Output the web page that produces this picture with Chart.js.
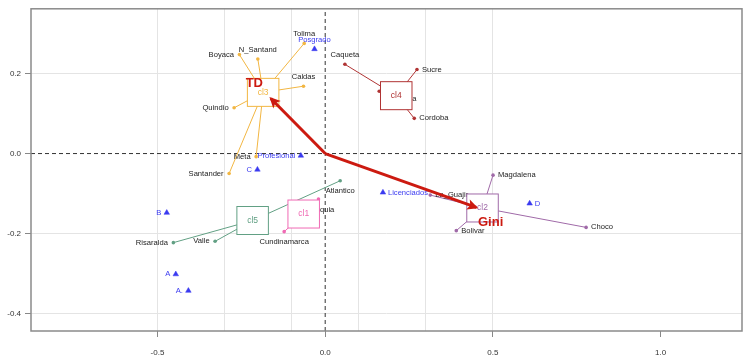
<!DOCTYPE html>
<html>
<head>
<meta charset="utf-8">
<script src="https://cdn.jsdelivr.net/npm/chart.js@4.4.0/dist/chart.umd.min.js"></script>
<style>
  html, body { margin: 0; padding: 0; background: #fff; }
  #wrap { width: 750px; height: 363px; }
</style>
</head>
<body>
<div id="wrap"><canvas id="chart" width="750" height="363"></canvas></div>
<script>
// Axis limits and ticks
const X_MIN = -0.877, X_MAX = 1.2425;
const Y_MIN = -0.4434, Y_MAX = 0.3617;
const xTickLabels = [-0.5, 0, 0.5, 1.0];
const xGrid = [-0.5, -0.3, -0.1, 0.1, 0.3, 0.5];
const yTickLabels = [-0.4, -0.2, 0, 0.2];
const yGrid = [-0.4, -0.2, 0.2];

// Cluster centres
const clusterNames = ['cl1', 'cl2', 'cl3', 'cl4', 'cl5'];
const clusterX = [-0.0641, 0.469, -0.185, 0.2118, -0.2163];
const clusterY = [-0.1511, -0.136, 0.1529, 0.1446, -0.1673];
const clusterColors = ['#f06ab4', '#a06aa8', '#f2b642', '#b03434', '#62a084'];

// Departments (active individuals)
const deptNames = ['Antioquia', 'Cundinamarca', 'Magdalena', 'La_Guajir', 'Bolivar', 'Choco',
  'Boyaca', 'N_Santand', 'Tolima', 'Caldas', 'Quindio', 'Meta', 'Santander',
  'Caqueta', 'Sucre', 'Cordoba', 'Huila', 'Cesar', 'Atlantico', 'Risaralda', 'Valle'];
const deptX = [-0.020, -0.1223, 0.5003, 0.3132, 0.3908, 0.7778,
  -0.2557, -0.2008, -0.0626, -0.0647, -0.2715, -0.2059, -0.2864,
  0.0588, 0.2736, 0.2655, 0.2058, 0.1611, 0.0447, -0.4526, -0.3282];
const deptY = [-0.1138, -0.1952, -0.054, -0.1038, -0.1927, -0.1845,
  0.2472, 0.2362, 0.2753, 0.1683, 0.1143, -0.0077, -0.05,
  0.223, 0.2099, 0.0879, 0.136, 0.1558, -0.068, -0.2226, -0.2193];
const deptCluster = [0, 0, 1, 1, 1, 1, 2, 2, 2, 2, 2, 2, 2, 3, 3, 3, 3, 3, 4, 4, 4];
const deptPos = ['b', 'b', 'r', 'r', 'r', 'r', 'l', 't', 't', 't', 'l', 'l', 'l',
  't', 'r', 'r', 'r', 'r', 'b', 'l', 'l'];

// Supplementary categories
const supNames = ['Posgrado', 'Profesional', 'C', 'B', 'A', 'A.', 'Licenciados', 'D'];
const supX = [-0.0319, -0.0725, -0.202, -0.4723, -0.4454, -0.4078, 0.1721, 0.6095];
const supY = [0.2611, -0.0052, -0.0401, -0.1479, -0.3015, -0.3428, -0.0973, -0.1247];
const supPos = ['t', 'l', 'l', 'l', 'l', 'l', 'r', 'r'];

// Variable arrows
const arrowNames = ['TD', 'Gini'];
const arrowX = [-0.162, 0.4505];
const arrowY = [0.1377, -0.1347];
const arrowLabelX = [-0.2112, 0.4932];
const arrowLabelY = [0.1758, -0.172];

const LABEL_FONT = "7.6px 'Liberation Sans', Arial, sans-serif";
const BLUE = '#3a3af0';
const RED = '#cc1a10';
const BOX_W = 31.5, BOX_H = 28;

const datasets = [];

// zero reference lines
datasets.push({ data: [{ x: 0, y: Y_MIN }, { x: 0, y: Y_MAX }], showLine: true, borderColor: '#333',
  borderWidth: 1, borderDash: [4, 3], pointRadius: 0, order: 60 });
datasets.push({ data: [{ x: X_MIN, y: 0 }, { x: X_MAX, y: 0 }], showLine: true, borderColor: '#333',
  borderWidth: 1, borderDash: [4, 3], pointRadius: 0, order: 60 });

// links from cluster centre to members
deptNames.forEach((n, i) => {
  const c = deptCluster[i];
  datasets.push({
    data: [{ x: clusterX[c], y: clusterY[c] }, { x: deptX[i], y: deptY[i] }],
    showLine: true, borderColor: clusterColors[c], borderWidth: 1, pointRadius: 0, order: 50,
  });
});

// member points per cluster
clusterNames.forEach((n, c) => {
  const pts = [];
  deptNames.forEach((d, i) => { if (deptCluster[i] === c) pts.push({ x: deptX[i], y: deptY[i] }); });
  datasets.push({ data: pts, pointRadius: 1.8, pointBackgroundColor: clusterColors[c],
    pointBorderWidth: 0, order: 40 });
});

// supplementary triangles
datasets.push({ data: supX.map((x, i) => ({ x, y: supY[i] })), pointStyle: 'triangle', pointRadius: 3.2,
  pointBackgroundColor: BLUE, pointBorderColor: BLUE, pointBorderWidth: 0.5, order: 40 });

// arrows
arrowNames.forEach((n, i) => {
  datasets.push({ kind: 'arrow', data: [{ x: 0, y: 0 }, { x: arrowX[i], y: arrowY[i] }], showLine: true,
    borderColor: RED, borderWidth: 3, pointRadius: 0, order: 10 });
});

function drawText(ctx, txt, px, py, pos, color) {
  ctx.font = LABEL_FONT;
  ctx.fillStyle = color;
  ctx.textBaseline = 'middle';
  let x = px, y = py;
  if (pos === 'l') { ctx.textAlign = 'right'; x = px - 5.5; }
  else if (pos === 'r') { ctx.textAlign = 'left'; x = px + 5; }
  else if (pos === 't') { ctx.textAlign = 'center'; y = py - 9; }
  else { ctx.textAlign = 'center'; y = py + 10.5; }
  ctx.fillText(txt, x, y);
}

let labelsDone = false;
const overlay = {
  id: 'overlay',
  beforeDraw() { labelsDone = false; },
  beforeDatasetDraw(chart, args) {
    const ds = chart.data.datasets[args.index];
    if (ds.kind !== 'arrow' || labelsDone) return;
    labelsDone = true;
    const { ctx, scales: { x, y } } = chart;
    ctx.save();
    deptNames.forEach((n, i) => drawText(ctx, n, x.getPixelForValue(deptX[i]), y.getPixelForValue(deptY[i]), deptPos[i], '#222'));
    supNames.forEach((n, i) => drawText(ctx, n, x.getPixelForValue(supX[i]), y.getPixelForValue(supY[i]), supPos[i], BLUE));
    clusterNames.forEach((n, c) => {
      const px = x.getPixelForValue(clusterX[c]), py = y.getPixelForValue(clusterY[c]);
      ctx.fillStyle = '#fff';
      ctx.fillRect(px - BOX_W / 2, py - BOX_H / 2, BOX_W, BOX_H);
      ctx.strokeStyle = clusterColors[c];
      ctx.lineWidth = 1;
      ctx.strokeRect(px - BOX_W / 2, py - BOX_H / 2, BOX_W, BOX_H);
      ctx.font = "8.5px 'Liberation Sans', Arial, sans-serif";
      ctx.fillStyle = clusterColors[c];
      ctx.textAlign = 'center';
      ctx.textBaseline = 'middle';
      ctx.fillText(n, px, py);
    });
    ctx.restore();
  },
  afterDatasetsDraw(chart) {
    const { ctx, chartArea: a, scales: { x, y } } = chart;
    ctx.save();
    const ox = x.getPixelForValue(0), oy = y.getPixelForValue(0);
    arrowNames.forEach((n, i) => {
      const tx = x.getPixelForValue(arrowX[i]), ty = y.getPixelForValue(arrowY[i]);
      const ang = Math.atan2(ty - oy, tx - ox);
      const hx = tx + Math.cos(ang) * 2, hy = ty + Math.sin(ang) * 2;
      const L = 12, w = 0.45;
      ctx.fillStyle = RED;
      ctx.beginPath();
      ctx.moveTo(hx, hy);
      ctx.lineTo(hx - L * Math.cos(ang - w), hy - L * Math.sin(ang - w));
      ctx.lineTo(hx - L * 0.7 * Math.cos(ang), hy - L * 0.7 * Math.sin(ang));
      ctx.lineTo(hx - L * Math.cos(ang + w), hy - L * Math.sin(ang + w));
      ctx.closePath();
      ctx.fill();
      ctx.font = "bold 13px 'Liberation Sans', Arial, sans-serif";
      ctx.textAlign = 'center';
      ctx.textBaseline = 'middle';
      ctx.fillText(n, x.getPixelForValue(arrowLabelX[i]), y.getPixelForValue(arrowLabelY[i]));
    });
    ctx.strokeStyle = '#8a8a8a';
    ctx.lineWidth = 1.5;
    ctx.strokeRect(a.left, a.top, a.right - a.left, a.bottom - a.top);
    ctx.restore();
  },
};

const tickFont = { family: "'Liberation Sans', Arial, sans-serif", size: 8 };

new Chart(document.getElementById('chart'), {
  type: 'scatter',
  data: { datasets },
  options: {
    responsive: false, animation: false,
    layout: { padding: { left: 0, top: 7, right: 8, bottom: 0 } },
    plugins: { legend: { display: false }, tooltip: { enabled: false } },
    scales: {
      x: {
        type: 'linear', min: X_MIN, max: X_MAX,
        afterBuildTicks: s => { s.ticks = [...xGrid, 0, 1.0].sort((a, b) => a - b).map(v => ({ value: v })); },
        afterFit: s => { s.height = 32; },
        ticks: { font: tickFont, color: '#333', padding: 11, maxRotation: 0, autoSkip: false,
          callback: v => xTickLabels.includes(v) ? v.toFixed(1) : '' },
        grid: {
          color: c => c.tick && xGrid.includes(c.tick.value) ? '#e4e4e4' : 'rgba(0,0,0,0)',
          tickColor: c => c.tick && xTickLabels.includes(c.tick.value) ? '#888' : 'rgba(0,0,0,0)',
          tickLength: 6,
        },
        border: { display: false },
      },
      y: {
        type: 'linear', min: Y_MIN, max: Y_MAX,
        afterBuildTicks: s => { s.ticks = yTickLabels.map(v => ({ value: v })); },
        afterFit: s => { s.width = 31; },
        ticks: { font: tickFont, color: '#333', padding: 4, autoSkip: false,
          callback: v => v.toFixed(1) },
        grid: {
          color: c => c.tick && yGrid.includes(c.tick.value) ? '#e4e4e4' : 'rgba(0,0,0,0)',
          tickColor: '#888',
          tickLength: 6,
        },
        border: { display: false },
      },
    },
  },
  plugins: [overlay],
});
</script>
</body>
</html>
